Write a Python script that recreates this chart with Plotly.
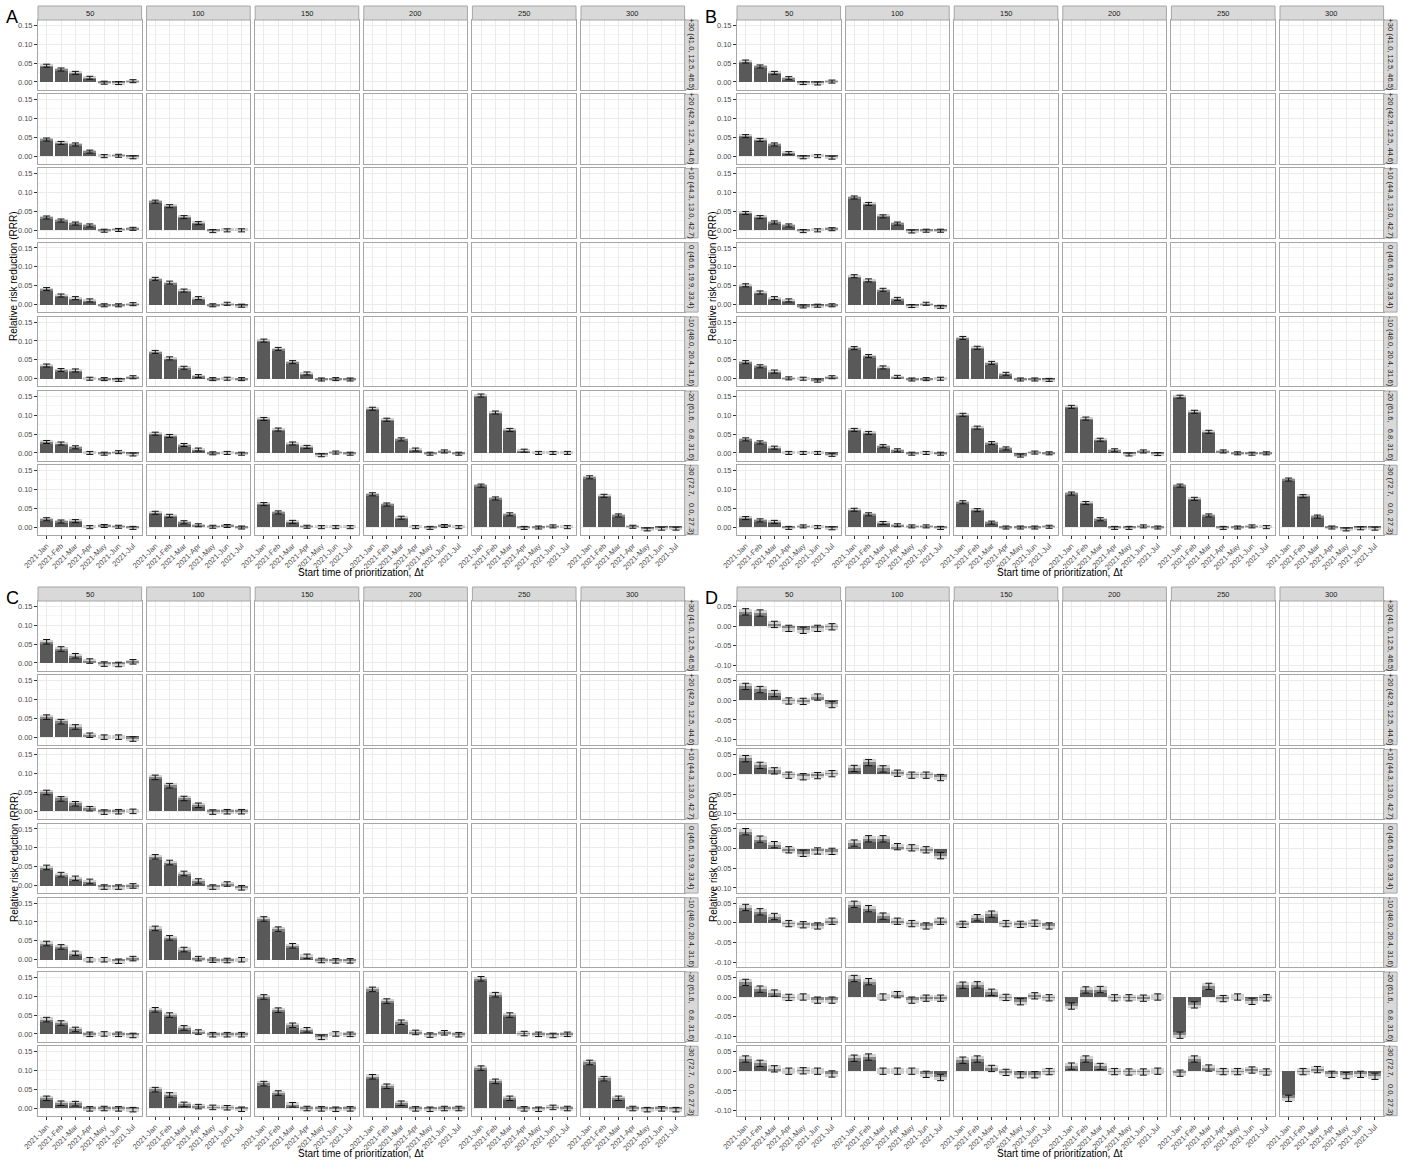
import plotly.graph_objects as go

# ---------------------------------------------------------------- data
MONTHS = ["2021-Jan", "2021-Feb", "2021-Mar", "2021-Apr", "2021-May", "2021-Jun", "2021-Jul"]
COL_LABELS = ["50", "100", "150", "200", "250", "300"]
ROW_LABELS = [
    "+30 (41.0, 12.5, 46.5)",
    "+20 (42.9, 12.5, 44.6)",
    "+10 (44.3, 13.0, 42.7)",
    "0 (46.6, 19.9, 33.4)",
    "-10 (48.0, 20.4, 31.6)",
    "-20 (61.6,\u00a0\u00a0 6.8, 31.6)",
    "-30 (72.7,\u00a0\u00a0 0.0, 27.3)",
]

# Panel A: one list per column (50, 100, ...) for each row
A_p30 = [[0.043, 0.033, 0.024, 0.011, -0.002, -0.003, 0.002]]
A_p20 = [[0.044, 0.035, 0.031, 0.012, 0.000, 0.001, -0.003]]
A_p10 = [[0.034, 0.026, 0.018, 0.013, -0.001, 0.001, 0.004],
         [0.076, 0.064, 0.035, 0.019, -0.002, 0.000, 0.000]]
A_0 = [[0.041, 0.024, 0.017, 0.011, -0.002, -0.002, 0.001],
       [0.068, 0.058, 0.037, 0.017, -0.002, 0.002, -0.003]]
A_m10 = [[0.035, 0.023, 0.022, 0.000, -0.001, -0.003, 0.004],
         [0.071, 0.054, 0.029, 0.007, -0.001, 0.000, -0.001],
         [0.101, 0.079, 0.044, 0.014, -0.002, -0.001, -0.002]]
A_m20 = [[0.029, 0.025, 0.015, 0.000, -0.002, 0.002, -0.004],
         [0.051, 0.045, 0.021, 0.009, -0.001, 0.000, -0.002],
         [0.090, 0.062, 0.025, 0.016, -0.006, 0.001, -0.002],
         [0.117, 0.088, 0.036, 0.009, -0.002, 0.004, -0.002],
         [0.152, 0.107, 0.061, 0.006, 0.000, 0.000, 0.000]]
A_m30 = [[0.021, 0.015, 0.016, 0.000, 0.003, 0.001, -0.002],
         [0.038, 0.030, 0.013, 0.005, 0.001, 0.003, -0.001],
         [0.061, 0.039, 0.014, 0.001, 0.000, 0.000, 0.000],
         [0.087, 0.060, 0.025, 0.000, -0.002, 0.003, 0.000],
         [0.110, 0.076, 0.034, -0.002, -0.001, 0.002, 0.000],
         [0.132, 0.083, 0.031, 0.001, -0.006, -0.004, -0.004]]

# Panel B
B_p30 = [[0.054, 0.041, 0.024, 0.010, -0.003, -0.004, 0.001]]
B_p20 = [[0.053, 0.043, 0.031, 0.008, -0.003, 0.000, -0.004]]
B_p10 = [[0.046, 0.035, 0.021, 0.013, -0.002, 0.000, 0.003],
         [0.087, 0.070, 0.037, 0.018, -0.003, -0.001, -0.001]]
B_0 = [[0.051, 0.032, 0.017, 0.011, -0.005, -0.003, -0.002],
       [0.075, 0.064, 0.039, 0.015, -0.004, 0.002, -0.006]]
B_m10 = [[0.044, 0.033, 0.019, 0.001, 0.000, -0.005, 0.004],
         [0.081, 0.060, 0.030, 0.005, -0.002, -0.001, 0.000],
         [0.108, 0.082, 0.042, 0.013, -0.002, -0.002, -0.003]]
B_m20 = [[0.036, 0.028, 0.014, 0.000, 0.000, 0.000, -0.005],
         [0.061, 0.053, 0.018, 0.007, -0.002, 0.000, -0.002],
         [0.101, 0.067, 0.026, 0.012, -0.007, 0.001, -0.001],
         [0.122, 0.091, 0.035, 0.007, -0.004, 0.004, -0.003],
         [0.149, 0.109, 0.056, 0.004, -0.001, -0.002, -0.001]]
B_m30 = [[0.024, 0.018, 0.014, -0.002, 0.002, 0.000, -0.003],
         [0.046, 0.034, 0.011, 0.005, 0.002, 0.002, -0.002],
         [0.066, 0.045, 0.012, -0.001, -0.001, -0.001, 0.001],
         [0.089, 0.064, 0.021, -0.002, -0.002, 0.002, -0.001],
         [0.110, 0.075, 0.031, -0.002, -0.001, 0.002, 0.000],
         [0.126, 0.082, 0.028, -0.001, -0.006, -0.003, -0.004]]

# Panel C
C_p30 = [[0.056, 0.037, 0.019, 0.005, -0.003, -0.004, 0.003]]
C_p20 = [[0.053, 0.041, 0.027, 0.005, 0.000, 0.000, -0.005]]
C_p10 = [[0.050, 0.033, 0.020, 0.007, -0.002, -0.001, 0.000],
         [0.090, 0.068, 0.034, 0.016, -0.002, -0.001, -0.001]]
C_0 = [[0.048, 0.029, 0.019, 0.011, -0.004, -0.004, -0.001],
       [0.076, 0.061, 0.032, 0.012, -0.004, 0.004, -0.006]]
C_m10 = [[0.043, 0.034, 0.017, 0.000, 0.000, -0.004, 0.003],
         [0.083, 0.058, 0.027, 0.003, -0.001, -0.002, 0.000],
         [0.108, 0.081, 0.037, 0.009, -0.002, -0.003, -0.003]]
C_m20 = [[0.038, 0.029, 0.012, -0.001, 0.000, -0.001, -0.004],
         [0.064, 0.050, 0.016, 0.005, -0.002, -0.002, -0.002],
         [0.098, 0.063, 0.023, 0.011, -0.009, 0.000, -0.001],
         [0.118, 0.087, 0.031, 0.004, -0.003, 0.003, -0.002],
         [0.146, 0.104, 0.050, 0.001, -0.001, -0.004, -0.001]]
C_m30 = [[0.026, 0.013, 0.012, -0.002, -0.001, -0.002, -0.004],
         [0.049, 0.035, 0.010, 0.004, 0.002, 0.001, -0.003],
         [0.065, 0.040, 0.009, -0.001, -0.002, -0.003, -0.002],
         [0.083, 0.058, 0.013, -0.002, -0.003, -0.001, -0.001],
         [0.106, 0.071, 0.026, -0.002, -0.003, 0.002, -0.001],
         [0.121, 0.078, 0.026, -0.001, -0.004, -0.002, -0.004]]

# Panel D
D_p30 = [[0.036, 0.033, 0.004, -0.006, -0.011, -0.006, -0.002]]
D_p20 = [[0.035, 0.027, 0.017, -0.002, -0.003, 0.008, -0.011]]
D_p10 = [[0.040, 0.023, 0.009, -0.002, -0.006, -0.003, 0.002],
         [0.015, 0.030, 0.014, 0.003, -0.002, -0.002, -0.008]]
D_0 = [[0.043, 0.024, 0.010, -0.003, -0.012, -0.006, -0.007],
       [0.014, 0.025, 0.025, 0.005, 0.002, -0.003, -0.018]]
D_m10 = [[0.039, 0.028, 0.016, -0.002, -0.005, -0.008, 0.004],
         [0.047, 0.036, 0.017, 0.004, -0.002, -0.008, 0.004],
         [-0.004, 0.013, 0.022, -0.002, -0.004, -0.001, -0.008]]
D_m20 = [[0.037, 0.020, 0.010, -0.001, 0.000, -0.008, -0.008],
         [0.047, 0.039, 0.000, 0.006, -0.008, -0.003, -0.003],
         [0.030, 0.031, 0.012, -0.001, -0.012, 0.003, -0.002],
         [-0.023, 0.018, 0.019, -0.002, -0.002, -0.003, 0.000],
         [-0.097, -0.020, 0.027, -0.004, 0.000, -0.011, -0.002]]
D_m30 = [[0.031, 0.020, 0.006, 0.000, 0.001, 0.000, -0.007],
         [0.033, 0.036, 0.000, 0.000, 0.000, -0.008, -0.016],
         [0.028, 0.031, 0.007, -0.003, -0.009, -0.009, -0.001],
         [0.013, 0.031, 0.012, -0.001, -0.002, -0.002, 0.000],
         [-0.005, 0.031, 0.008, -0.001, -0.001, 0.003, -0.002],
         [-0.069, -0.001, 0.004, -0.008, -0.011, -0.008, -0.013]]

# half-width of the confidence interval drawn on every bar
A_ERR = 0.004
B_ERR = 0.004
C_ERR = 0.006
D_ERR = 0.008

# y scales
ABC_RANGE = [-0.020, 0.164]
ABC_TICKS = [0.00, 0.05, 0.10, 0.15]
ABC_MINOR = [0.025, 0.075, 0.125]
D_RANGE = [-0.113, 0.0635]
D_TICKS = [-0.10, -0.05, 0.00, 0.05]
D_MINOR = [-0.075, -0.025, 0.025]

PANELS = [
    ("A", [A_p30, A_p20, A_p10, A_0, A_m10, A_m20, A_m30], A_ERR, ABC_RANGE, ABC_TICKS, ABC_MINOR),
    ("B", [B_p30, B_p20, B_p10, B_0, B_m10, B_m20, B_m30], B_ERR, ABC_RANGE, ABC_TICKS, ABC_MINOR),
    ("C", [C_p30, C_p20, C_p10, C_0, C_m10, C_m20, C_m30], C_ERR, ABC_RANGE, ABC_TICKS, ABC_MINOR),
    ("D", [D_p30, D_p20, D_p10, D_0, D_m10, D_m20, D_m30], D_ERR, D_RANGE, D_TICKS, D_MINOR),
]

# ---------------------------------------------------------------- layout geometry (px)
W, H = 1404, 1161
OFFSETS = [(0, 0), (699, 0), (0, 581), (699, 581)]
COL0, COL_PITCH, COL_W = 38.0, 108.6, 103.6
ROW0, ROW_PITCH, ROW_H = 20.0, 74.2, 69.5
STRIP_TOP, STRIP_RIGHT_W = 6.0, 13.5

FONT = "Liberation Sans, Arial, Helvetica, sans-serif"
BAR_COLOR = "#595959"
SHADE_COLOR = "rgba(175,175,175,0.55)"
BORDER = "#a6a6a6"
GRID = "#ebebeb"
GRID_MINOR = "#f5f5f5"
STRIP_FILL = "#d9d9d9"


def px_x(x):
    return x / W


def px_y(y):
    return 1 - y / H


fig = go.Figure()
layout = dict(shapes=[], annotations=[])
xs = list(range(len(MONTHS)))
k = 0

for p, (letter, rows, err, yrange, yticks, yminor) in enumerate(PANELS):
    ox, oy = OFFSETS[p]
    for r in range(7):
        top = oy + ROW0 + ROW_PITCH * r
        for c in range(6):
            k += 1
            left = ox + COL0 + COL_PITCH * c
            xname = "xaxis" if k == 1 else f"xaxis{k}"
            yname = "yaxis" if k == 1 else f"yaxis{k}"
            xref = "x" if k == 1 else f"x{k}"
            yref = "y" if k == 1 else f"y{k}"
            bottom_row = r == 6
            left_col = c == 0
            layout[xname] = dict(
                domain=[px_x(left), px_x(left + COL_W)],
                anchor=yref, range=[-0.6, 6.6], automargin=False,
                tickmode="array", tickvals=xs, ticktext=MONTHS,
                showticklabels=bottom_row, tickangle=-45,
                ticks="outside" if bottom_row else "", ticklen=3, tickcolor="#333333",
                tickfont=dict(size=7.5, color="#4d4d4d"),
                showgrid=True, gridcolor=GRID, gridwidth=1, zeroline=False,
                showline=True, mirror=True, linecolor=BORDER, linewidth=1,
                fixedrange=True,
            )
            layout[yname] = dict(
                domain=[px_y(top + ROW_H), px_y(top)],
                anchor=xref, range=yrange, automargin=False,
                tickmode="array", tickvals=yticks,
                ticktext=[f"{v:.2f}" for v in yticks],
                showticklabels=left_col,
                ticks="outside" if left_col else "", ticklen=3, tickcolor="#333333",
                tickfont=dict(size=7.5, color="#4d4d4d"),
                showgrid=True, gridcolor=GRID, gridwidth=1, zeroline=False,
                minor=dict(tickvals=yminor, showgrid=True, gridcolor=GRID_MINOR, ticks=""),
                showline=True, mirror=True, linecolor=BORDER, linewidth=1,
                fixedrange=True,
            )
            cols = rows[r]
            if c < len(cols):
                vals = cols[c]
                fig.add_trace(go.Bar(
                    x=xs, y=vals, width=0.9, marker=dict(color=BAR_COLOR, line=dict(width=0)),
                    xaxis=xref, yaxis=yref, showlegend=False, hoverinfo="skip",
                ))
                fig.add_trace(go.Bar(
                    x=xs, y=[2 * err] * len(vals), base=[v - err for v in vals], width=0.9,
                    marker=dict(color=SHADE_COLOR, line=dict(width=0)),
                    xaxis=xref, yaxis=yref, showlegend=False, hoverinfo="skip",
                ))
                fig.add_trace(go.Scatter(
                    x=xs, y=vals, mode="markers",
                    marker=dict(size=1, color="rgba(0,0,0,0)"),
                    error_y=dict(type="data", array=[err] * len(vals), color="#111111",
                                 thickness=1, width=3.5),
                    xaxis=xref, yaxis=yref, showlegend=False, hoverinfo="skip",
                ))
            else:
                # empty facet: a blank trace so the subplot frame and grid are drawn
                fig.add_trace(go.Scatter(
                    x=[None], y=[None], mode="markers",
                    xaxis=xref, yaxis=yref, showlegend=False, hoverinfo="skip",
                ))
            # column strip on the top row
            if r == 0:
                layout["shapes"].append(dict(
                    type="rect", xref="paper", yref="paper",
                    x0=px_x(left), x1=px_x(left + COL_W),
                    y0=px_y(top), y1=px_y(oy + STRIP_TOP),
                    fillcolor=STRIP_FILL, line=dict(color=BORDER, width=1),
                ))
                layout["annotations"].append(dict(
                    text=COL_LABELS[c], xref="paper", yref="paper",
                    x=px_x(left + COL_W / 2), y=px_y((top + oy + STRIP_TOP) / 2),
                    showarrow=False, font=dict(size=7.5, color="#1a1a1a", family=FONT),
                    xanchor="center", yanchor="middle",
                ))
        # row strip on the right
        rs_left = ox + COL0 + COL_PITCH * 5 + COL_W
        layout["shapes"].append(dict(
            type="rect", xref="paper", yref="paper",
            x0=px_x(rs_left), x1=px_x(rs_left + STRIP_RIGHT_W),
            y0=px_y(top + ROW_H), y1=px_y(top),
            fillcolor=STRIP_FILL, line=dict(color=BORDER, width=1),
        ))
        layout["annotations"].append(dict(
            text=ROW_LABELS[r], xref="paper", yref="paper",
            x=px_x(rs_left + STRIP_RIGHT_W / 2), y=px_y(top + ROW_H / 2),
            showarrow=False, textangle=90, font=dict(size=7.5, color="#1a1a1a", family=FONT),
            xanchor="center", yanchor="middle",
        ))
    # panel letter and axis titles
    layout["annotations"].append(dict(
        text=letter, xref="paper", yref="paper", x=px_x(ox + 12), y=px_y(oy + 17),
        showarrow=False, font=dict(size=18, color="#000000", family=FONT),
        xanchor="center", yanchor="middle",
    ))
    layout["annotations"].append(dict(
        text="Relative risk reduction (RRR)", xref="paper", yref="paper",
        x=px_x(ox + 14), y=px_y(oy + 277), textangle=-90,
        showarrow=False, font=dict(size=10, color="#000000", family=FONT),
        xanchor="center", yanchor="middle",
    ))
    layout["annotations"].append(dict(
        text="Start time of prioritization, \u0394t", xref="paper", yref="paper",
        x=px_x(ox + 361), y=px_y(oy + 572),
        showarrow=False, font=dict(size=10, color="#000000", family=FONT),
        xanchor="center", yanchor="middle",
    ))

fig.update_layout(
    width=W, height=H, margin=dict(l=0, r=0, t=0, b=0, autoexpand=False),
    paper_bgcolor="white", plot_bgcolor="white",
    barmode="overlay", bargap=0, showlegend=False,
    font=dict(family=FONT, size=8, color="#4d4d4d"),
    **layout,
)

fig.write_html("out.html", config={"displayModeBar": False})
